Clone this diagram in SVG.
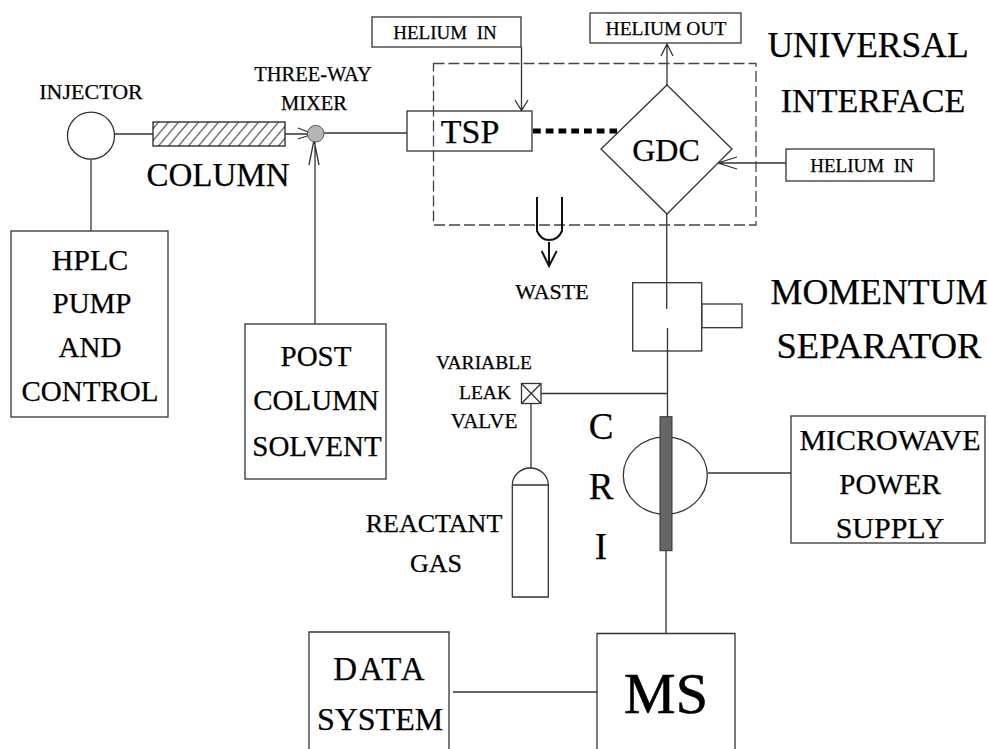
<svg xmlns="http://www.w3.org/2000/svg" width="988" height="749" viewBox="0 0 988 749">
<style>
text{font-family:"Liberation Serif","Times New Roman",serif;fill:#000;stroke:#000;stroke-width:.25;text-anchor:middle;white-space:pre}
.b{fill:#fff;stroke:#333;stroke-width:1.3}
.n{fill:none;stroke:#333;stroke-width:1.3}
.h{fill:none;stroke:#111;stroke-width:2}
.s{font-size:19.5px}.x{font-size:22px}.m{font-size:29px}.l{font-size:36px}
</style>
<defs>
<pattern id="h" width="10" height="24" patternUnits="userSpaceOnUse" patternTransform="skewX(-40)"><rect width="10" height="24" fill="#fff"/><line x1="1" y1="0" x2="1" y2="24" stroke="#222" stroke-width="1.2"/></pattern>
</defs>
<rect width="988" height="749" fill="#fff"/>
<g id="connectors">
<path class="n" d="M91 159V231"/>
<path class="n" d="M115 134H153"/>
<path class="n" d="M285 134H312M298 128L313 134L298 139"/>
<path class="n" d="M315 324V140M309 165L314 140L319 165"/>
<path class="n" d="M324 133H407"/>
<path class="n" d="M521.5 47V110.5M515 100L521.5 110.5L528 100"/>
<path class="n" d="M667 85V44M661 56L667 44L673 56"/>
<path class="n" d="M786 163H718M737 157L718 163L737 169"/>
<path d="M533 131H617" fill="none" stroke="#000" stroke-width="5" stroke-dasharray="7.75 5"/>
<path class="n" d="M666.7 214V309M667.5 328V417M541 393.5H667M531 404V468M708 473H791M666 550V633M453 692H597"/>
</g>
<g id="universal-interface-frame"><rect x="433.5" y="63.5" width="322.5" height="161.5" fill="none" stroke="#444" stroke-width="1.3" stroke-dasharray="11 4"/></g>
<g id="injector"><circle class="b" cx="91" cy="135.7" r="23.5"/><text class="x" x="91" y="99">INJECTOR</text></g>
<g id="column"><rect x="153" y="122" width="132" height="24" fill="url(#h)" stroke="#222" stroke-width="1.3"/><text x="218" y="186" style="font-size:33px">COLUMN</text></g>
<g id="mixer"><circle cx="315.7" cy="133.7" r="8.3" fill="#b5b5b5" stroke="#555"/><text x="313" y="81" style="font-size:20.5px">THREE-WAY</text><text x="314" y="110" style="font-size:20.5px">MIXER</text></g>
<g id="hplc"><rect class="b" x="11" y="231" width="157" height="186"/><text x="90" y="270" style="font-size:30px">HPLC</text><text class="m" x="92" y="313">PUMP</text><text class="m" x="90" y="357">AND</text><text class="m" x="90" y="401">CONTROL</text></g>
<g id="post-column"><rect class="b" x="245" y="324" width="141" height="155"/><text class="m" x="316" y="366">POST</text><text class="m" x="316" y="410">COLUMN</text><text class="m" x="317" y="456">SOLVENT</text></g>
<g id="helium-in-1"><rect class="b" x="372" y="17" width="149" height="30"/><text class="s" x="445" y="39" style="font-size:19px">HELIUM  IN</text></g>
<g id="helium-out"><rect class="b" x="590" y="13" width="151" height="30"/><text class="s" x="666" y="35">HELIUM OUT</text></g>
<g id="helium-in-2"><rect class="b" x="786" y="149" width="148" height="32"/><text x="862" y="172" style="font-size:19px">HELIUM  IN</text></g>
<g id="tsp"><rect x="407" y="111" width="125" height="40" fill="none" stroke="#333" stroke-width="1.3"/><text x="470" y="143" style="font-size:34px">TSP</text></g>
<g id="gdc"><path class="b" d="M667 85L732 149L667 214L601 149Z"/><text x="666" y="161" style="font-size:32px">GDC</text></g>
<g id="waste"><path class="h" d="M537 197V231Q541 240 549 240Q558 240 562 231V197"/><path class="h" d="M549 242V266M541.7 251L549 266L556.7 251"/><text class="x" x="552" y="299">WASTE</text></g>
<g id="momentum-separator"><rect class="n" x="632.7" y="282.7" width="69" height="68.3"/><rect class="n" x="701.7" y="304" width="40.3" height="23.7"/></g>
<g id="labels"><text x="868" y="57" style="font-size:35.5px">UNIVERSAL</text><text x="873" y="112" style="font-size:34px">INTERFACE</text><text x="879" y="304" style="font-size:35.8px">MOMENTUM</text><text x="879" y="358" style="font-size:36.5px">SEPARATOR</text></g>
<g id="valve"><rect class="b" x="521.5" y="383.5" width="19.5" height="20"/><path class="n" d="M521.5 383.5L541 403.5M541 383.5L521.5 403.5"/><text class="s" x="484" y="369">VARIABLE</text><text class="s" x="485" y="399">LEAK</text><text x="484" y="428" style="font-size:21px">VALVE</text></g>
<g id="reactant-gas"><path class="b" d="M512.3 485A18 17 0 0 1 548.3 485V597H512.3Z"/><path class="n" d="M512.3 485H548.3"/><text x="434" y="532" style="font-size:26px">REACTANT</text><text x="436" y="572" style="font-size:26px">GAS</text></g>
<g id="cri"><ellipse class="b" cx="665.3" cy="475.5" rx="42" ry="38.7"/><rect x="660" y="416.7" width="12" height="134" fill="#666" stroke="#333"/><text x="601" y="439" style="font-size:37px">C</text><text x="601" y="499" style="font-size:37px">R</text><text x="601" y="559" style="font-size:37px">I</text></g>
<g id="microwave"><rect class="b" x="791" y="416" width="194" height="127"/><text x="890" y="450" style="font-size:30px">MICROWAVE</text><text x="890" y="494" style="font-size:29px">POWER</text><text x="890" y="538" style="font-size:30px">SUPPLY</text></g>
<g id="data-system"><path class="b" d="M309 749V632H449V749"/><text x="380" y="680" style="font-size:33px;letter-spacing:2px">DATA</text><text x="380" y="730" style="font-size:32px">SYSTEM</text></g>
<g id="ms"><path class="b" d="M597 749V633.5H735V749"/><text x="666" y="713" style="font-size:58px;stroke-width:.6">MS</text></g>
</svg>
